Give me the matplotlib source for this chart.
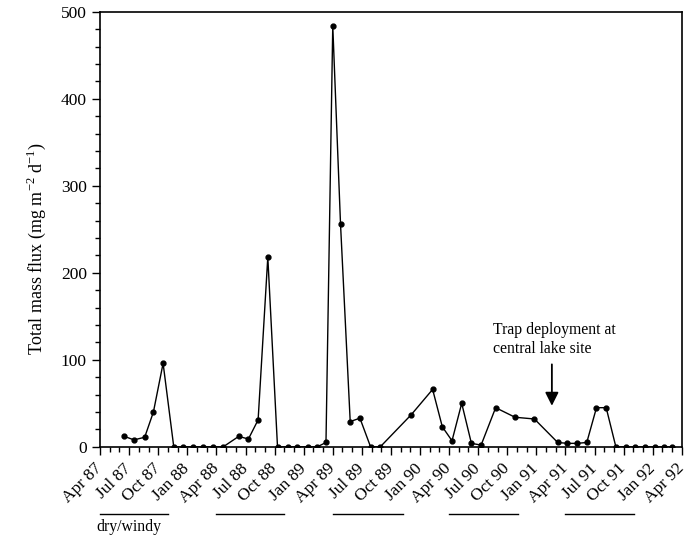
import matplotlib
matplotlib.use("Agg")
import matplotlib.pyplot as plt
import matplotlib.transforms as mtransforms
import numpy as np

plt.rcParams['font.family'] = ['Liberation Serif', 'DejaVu Serif']

# months since Apr 87
months = [2.5, 3.5, 4.6, 5.5, 6.5, 7.6, 8.6, 9.6, 10.6, 11.6, 12.7,
          14.3, 15.3, 16.3, 17.3, 18.3, 19.4, 20.3, 21.4, 22.4, 23.3,
          24.0, 24.8, 25.8, 26.8, 27.9, 28.9, 32.1, 34.3, 35.3, 36.3,
          37.3, 38.3, 39.3, 40.8, 42.8, 44.8, 47.2, 48.2, 49.2, 50.2,
          51.2, 52.2, 53.2, 54.2, 55.2, 56.2, 57.2, 58.2, 59.0]
flux = [12, 8, 11, 40, 96, 0, 0, 0, 0, 0, 0,
        12, 9, 31, 218, 0, 0, 0, 0, 0, 5,
        484, 256, 29, 33, 0, 0, 37, 66, 23, 7,
        50, 4, 2, 45, 34, 32, 5, 4, 4, 5,
        45, 45, 0, 0, 0, 0, 0, 0, 0]

tick_labels = ['Apr 87', 'Jul 87', 'Oct 87', 'Jan 88', 'Apr 88', 'Jul 88', 'Oct 88',
               'Jan 89', 'Apr 89', 'Jul 89', 'Oct 89', 'Jan 90', 'Apr 90', 'Jul 90',
               'Oct 90', 'Jan 91', 'Apr 91', 'Jul 91', 'Oct 91', 'Jan 92', 'Apr 92']

# dry/windy season spans (months since Apr 87)
dry_start = [0, 12, 24, 36, 48]
dry_end = [7, 19, 31.2, 43.1, 55.1]

arrow_month = 46.6

fig = plt.figure(figsize=(6.95, 5.39), dpi=100)
ax = fig.add_axes([0.144, 0.171, 0.837, 0.807])

ax.plot(months, flux, color='black', lw=1.0, marker='o', markersize=3.5)

ax.set_xlim(0, 60)
ax.set_ylim(0, 500)
ax.set_xticks(np.arange(0, 61, 3))
ax.set_xticks(np.arange(0, 61, 1), minor=True)
ax.set_xticklabels(tick_labels, rotation=45, ha='right', va='center',
                   rotation_mode='anchor', fontsize=12.5)
ax.set_yticks(np.arange(0, 501, 100))
ax.set_yticks(np.arange(0, 501, 20), minor=True)
ax.tick_params(axis='y', labelsize=12.5)
ax.tick_params(which='major', length=6, width=1, direction='out')
ax.tick_params(which='minor', length=3.5, width=1, direction='out')
ax.tick_params(axis='x', which='major', pad=8)
for s in ax.spines.values():
    s.set_linewidth(1.2)

ax.set_ylabel('Total mass flux (mg m$^{\\mathregular{-2}}$ d$^{\\mathregular{-1}}$)', fontsize=13)
ax.yaxis.set_label_coords(-0.09, 0.455)

# season bars below the axis
trans = mtransforms.blended_transform_factory(ax.transData, fig.transFigure)
for a, b in zip(dry_start, dry_end):
    ax.plot([a, b], [0.047, 0.047], color='black', lw=1.0, transform=trans, clip_on=False)
fig.text(0.139, 0.022, 'dry/windy', fontsize=11.3, ha='left', va='center')

ax.annotate('', xy=(arrow_month, 44), xytext=(arrow_month, 98),
            arrowprops=dict(arrowstyle='-|>', color='black', lw=1.3, mutation_scale=20))
ax.text(arrow_month - 6.1, 103, 'Trap deployment at\ncentral lake site', fontsize=11.3,
        ha='left', va='bottom', linespacing=1.25)

fig.savefig('out.png', dpi=100)
